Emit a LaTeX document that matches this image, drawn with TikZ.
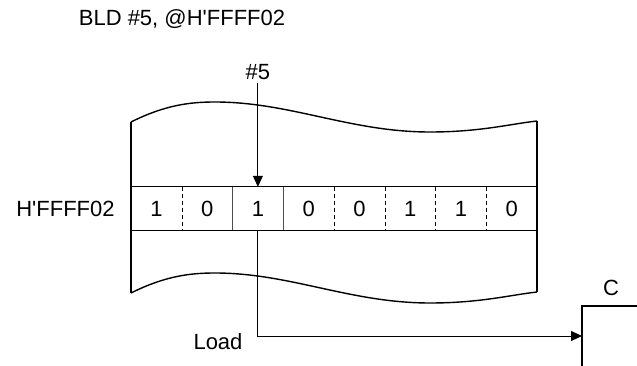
\documentclass[tikz,border=0pt]{standalone}
\usepackage{fontspec}
\setmainfont{Liberation Sans}
\usetikzlibrary{arrows.meta, positioning}

\tikzset{
  lbl/.style={font=\fontsize{22}{26}\selectfont, inner sep=0pt},
  bitcell/.style={lbl, minimum width=50.75pt, minimum height=43pt},
  edge/.style={line width=1.4pt},
  sep/.style={line width=0.8pt, dash pattern=on 4pt off 3pt},
  sepsolid/.style={line width=0.8pt, black!70},
  ptr/.style={line width=0.9pt, -{Triangle[length=11pt,width=10pt]}},
}

\begin{document}
\begin{tikzpicture}[x=1pt, y=-1pt]
  \useasboundingbox (0,0) rectangle (637,366);

  \node[lbl] (title) at (182,19) {BLD \#5, @H\textquotesingle FFFF02};

  % wavy top and bottom of the memory area
  \draw[edge] (131,122) .. controls (165,105) and (190,102) .. (215,102)
    .. controls (290,102) and (350,132) .. (430,132)
    .. controls (480,132) and (510,124) .. (537,121);
  \draw[edge] (131,293) .. controls (165,276) and (190,273) .. (215,273)
    .. controls (290,273) and (350,303) .. (430,303)
    .. controls (480,303) and (510,295) .. (537,292);
  \draw[edge] (131,122) -- (131,293);
  \draw[edge] (537,121) -- (537,292);

  % the byte at H'FFFF02
  \foreach \b [count=\i from 0] in {1,0,1,0,0,1,1,0}
    \node[bitcell] (cell\i) at (131+50.75*\i+25.375,208.5) {\b};
  \draw[edge] (cell0.north west) -- (cell7.north east);
  \draw[edge] (cell0.south west) -- (cell7.south east);
  \foreach \i in {0,3,4,5,6}
    \draw[sep] (cell\i.north east) -- (cell\i.south east);
  \foreach \i in {1,2}
    \draw[sepsolid] (cell\i.north east) -- (cell\i.south east);

  \node[lbl, left=16pt of cell0] (addr) {H\textquotesingle FFFF02};

  % bit number pointer
  \node[lbl] (bitno) at (cell2 |- 0,72) {\#5};
  \draw[ptr] (bitno.south) ++(0,3) -- (cell2.north);

  % C flag
  \coordinate (cin) at (582,336);
  \coordinate (ctop) at (582,306);
  \draw[line width=1.2pt] (582,366) -- (ctop) -- (637,306);
  \node[lbl] (cflag) at (611,288) {C};

  \draw[ptr] (cell2.south) |- (cin);
  \node[lbl] (load) at (218,342) {Load};
\end{tikzpicture}
\end{document}
